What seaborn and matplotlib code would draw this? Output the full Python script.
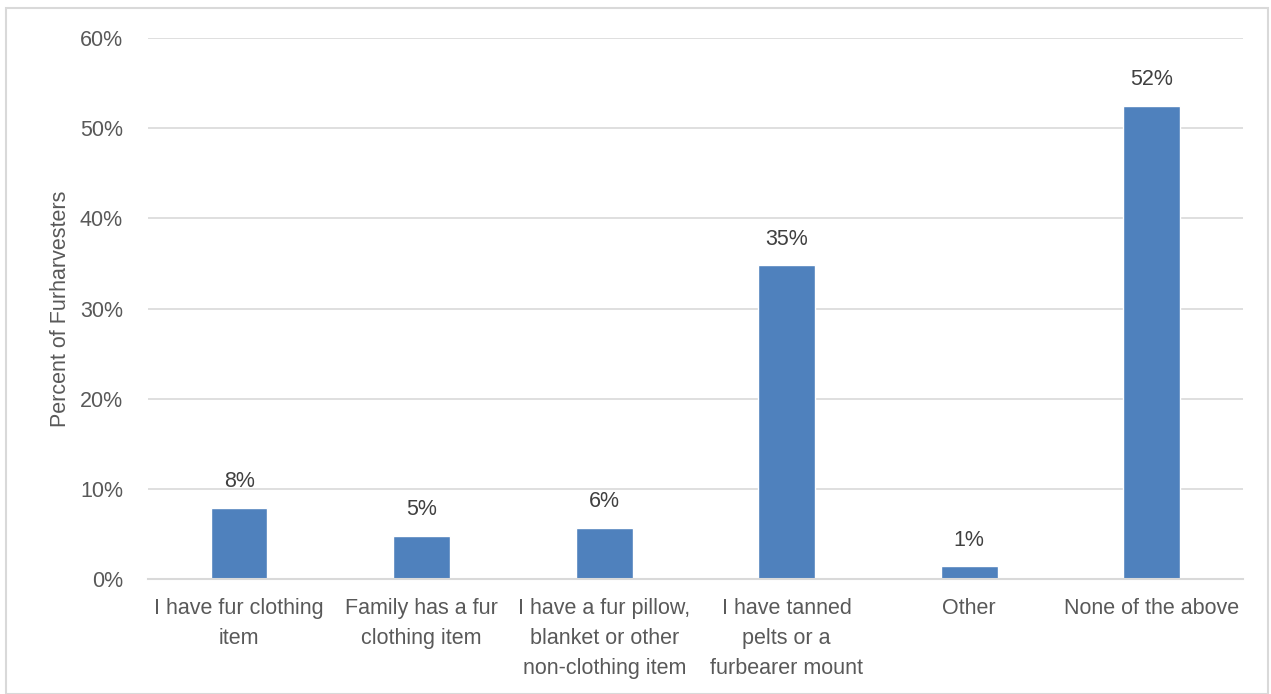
import matplotlib
matplotlib.use("Agg")
import matplotlib.pyplot as plt
import seaborn as sns
import pandas as pd
from matplotlib.patches import Rectangle
from matplotlib.ticker import FuncFormatter

# Data
categories = [
    "I have fur clothing\nitem",
    "Family has a fur\nclothing item",
    "I have a fur pillow,\nblanket or other\nnon-clothing item",
    "I have tanned\npelts or a\nfurbearer mount",
    "Other",
    "None of the above",
]
percent = [7.9, 4.8, 5.7, 34.8, 1.4, 52.5]
labels = ["8%", "5%", "6%", "35%", "1%", "52%"]

df = pd.DataFrame({"category": categories, "percent": percent})

sns.set_style("white")
plt.rcParams["font.family"] = ["Liberation Sans", "DejaVu Sans"]

text_color = "#595959"
grid_color = "#d9d9d9"
bar_color = "#4f81bd"
fs = 15.5

fig = plt.figure(figsize=(12.71, 6.94), dpi=100)
ax = fig.add_axes([0.1164, 0.1657, 0.8616, 0.7795])

sns.barplot(data=df, x="category", y="percent", color=bar_color,
            width=0.31, saturation=1, ax=ax)

# value labels above bars
for patch, lab in zip(ax.patches, labels):
    ax.text(patch.get_x() + patch.get_width() / 2, patch.get_height() + 1.7,
            lab, ha="center", va="bottom", fontsize=fs, color="#404040")

ax.set_ylim(0, 60)
ax.set_yticks(range(0, 61, 10))
ax.yaxis.set_major_formatter(FuncFormatter(lambda v, p: f"{int(v)}%"))
ax.grid(axis="y", color=grid_color, linewidth=1.2)
ax.set_axisbelow(True)
for side in ["top", "right", "left"]:
    ax.spines[side].set_visible(False)
ax.spines["bottom"].set_color(grid_color)
ax.spines["bottom"].set_linewidth(1.5)

ax.tick_params(axis="both", length=0, labelsize=fs, labelcolor=text_color)
ax.tick_params(axis="y", pad=18)
ax.tick_params(axis="x", pad=14)
for t in ax.get_xticklabels():
    t.set_linespacing(1.55)

ax.set_xlabel("")
ax.set_ylabel("Percent of Furharvesters", fontsize=fs, color=text_color, labelpad=6)

# light frame around chart area
fig.patches.append(Rectangle((6 / 1271, 0.0), 1262 / 1271, 1 - 8 / 694,
                             transform=fig.transFigure, fill=False,
                             edgecolor="#d9d9d9", linewidth=1.5))

fig.savefig("out.png", dpi=100)
